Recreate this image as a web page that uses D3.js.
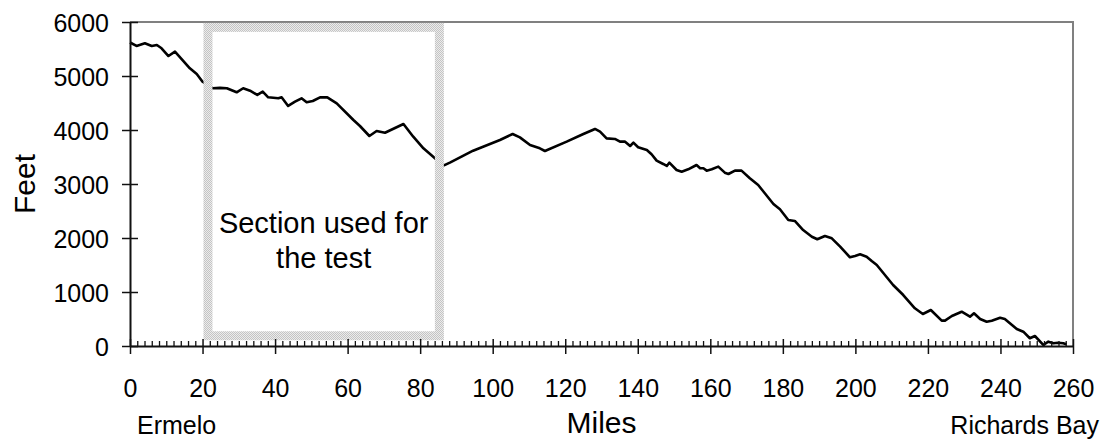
<!DOCTYPE html>
<html>
<head>
<meta charset="utf-8">
<script src="https://cdn.jsdelivr.net/npm/d3@7"></script>
<style>
  html, body { margin: 0; padding: 0; background: #fff; }
  svg { display: block; font-family: "Liberation Sans", Arial, sans-serif; }
</style>
</head>
<body>
<div id="chart"></div>
<script>
/* ---------- Data ---------- */
const miles = [0, 1.8, 4.1, 6, 7.4, 8.7, 10.6, 12.4, 14.3, 16.5, 18.4, 20.0,
  22.8, 24.8, 26.7, 29.4, 31.2, 33.1, 35.1, 36.6, 38.1, 40.9, 41.8, 43.6, 45.5,
  47.3, 48.7, 50.4, 52.4, 54.4, 57.0, 61.6, 63.4, 66.0, 68.0, 70.3, 75.4, 78.1,
  80.9, 83.6, 86.4, 88.2, 94.6, 102.0, 105.5, 107.5, 110.3, 113.0, 114.4, 120.4,
  125.0, 128.2, 129.6, 131.4, 133.7, 135.1, 136.5, 137.9, 138.8, 140.1, 142.5,
  143.8, 145.2, 147.0, 148.0, 148.7, 150.7, 152.1, 153.9, 156.2, 157.2, 158.1,
  159.0, 160.4, 162.2, 164.0, 165.0, 166.8, 168.6, 170.9, 173.2, 177.4, 179.2,
  181.5, 183.3, 185.6, 188.0, 189.5, 191.6, 193.5, 195.8, 198.5, 199.9, 201.3,
  203.1, 204.5, 205.9, 210.4, 213.2, 216.4, 218.6, 220.8, 223.8, 224.7, 226.6,
  229.3, 231.6, 232.7, 234.4, 236.2, 237.6, 239.9, 241.2, 242.6, 244.5, 246.3,
  248.1, 249.5, 251.8, 253.2, 254.6, 255.9, 257.3, 258.2];
const feet = [5620, 5556, 5606, 5556, 5574, 5513, 5370, 5450, 5309, 5143, 5037, 4895,
  4773, 4780, 4773, 4698, 4773, 4728, 4649, 4710, 4605, 4587, 4605, 4445, 4524,
  4587, 4513, 4537, 4605, 4605, 4494, 4185, 4074, 3889, 3982, 3950, 4111, 3876,
  3661, 3506, 3339, 3395, 3617, 3815, 3926, 3864, 3722, 3661, 3611, 3784,
  3926, 4019, 3969, 3845, 3834, 3784, 3784, 3704, 3765, 3680, 3630,
  3550, 3432, 3371, 3334, 3395, 3260, 3228, 3272, 3352, 3291, 3291,
  3247, 3272, 3321, 3210, 3185, 3247, 3247, 3106, 2982, 2630, 2532,
  2334, 2315, 2148, 2024, 1976, 2037, 1994, 1839, 1643, 1667, 1698,
  1654, 1574, 1500, 1130, 944, 698, 593, 667, 469, 469, 556,
  635, 543, 605, 500, 450, 469, 524, 500, 420, 315, 265,
  143, 185, 19, 80, 50, 61, 50, 31];

const xTicks = d3.range(0, 261, 20);
const xMinorTicks = d3.range(0, 261, 2).filter(v => v % 20 !== 0);
const yTicks = d3.range(0, 6001, 1000);

const section = { from: 21.5, to: 85.3, low: 190, high: 5900 };
const sectionLabel = ['Section used for', 'the test'];
const startLabel = 'Ermelo';
const endLabel = 'Richards Bay';

(function () {
  'use strict';

  /* ---------- Size ---------- */
  const W = 1107, H = 441;
  const pl = 130, pr = 1073, pt = 22, pb = 346;
  const FONT = '"Liberation Sans", Arial, sans-serif';

  const svg = d3.select('#chart').append('svg')
    .attr('width', W).attr('height', H);

  svg.append('rect').attr('width', W).attr('height', H).attr('fill', '#fff');

  const x = d3.scaleLinear().domain([0, 260]).range([pl, pr]);
  const y = d3.scaleLinear().domain([0, 6000]).range([pb, pt]);

  // dotted grey pattern for the section frame
  const defs = svg.append('defs');
  const pat = defs.append('pattern').attr('id', 'dots')
    .attr('width', 2).attr('height', 2).attr('patternUnits', 'userSpaceOnUse');
  pat.append('rect').attr('width', 2).attr('height', 2).attr('fill', '#ececec');
  pat.append('rect').attr('width', 1).attr('height', 1).attr('fill', '#c4c4c4');
  pat.append('rect').attr('x', 1).attr('y', 1).attr('width', 1).attr('height', 1).attr('fill', '#c4c4c4');

  /* ---------- Plot border (top / right) ---------- */
  svg.append('path')
    .attr('d', `M${pl},${pt}H${pr}V${pb}`)
    .attr('fill', 'none')
    .attr('stroke', '#808080')
    .attr('stroke-width', 2);

  /* ---------- Line ---------- */
  const pts = miles.map((m, i) => [m, feet[i]]);
  svg.append('path')
    .datum(pts)
    .attr('fill', 'none')
    .attr('stroke', '#000')
    .attr('stroke-width', 2.6)
    .attr('stroke-linejoin', 'round')
    .attr('d', d3.line().x(d => x(d[0])).y(d => y(d[1])));

  /* ---------- Section box ---------- */
  svg.append('rect')
    .attr('x', x(section.from))
    .attr('y', y(section.high))
    .attr('width', x(section.to) - x(section.from))
    .attr('height', y(section.low) - y(section.high))
    .attr('fill', 'none')
    .attr('stroke', 'url(#dots)')
    .attr('stroke-width', 9);

  const cx = (x(section.from) + x(section.to)) / 2;
  svg.append('text')
    .attr('x', cx).attr('y', 233)
    .attr('text-anchor', 'middle')
    .attr('font-size', 29)
    .attr('fill', '#000')
    .selectAll('tspan')
    .data(sectionLabel)
    .join('tspan')
    .attr('x', cx)
    .attr('dy', (d, i) => i === 0 ? 0 : 35)
    .text(d => d);

  /* ---------- Axes ---------- */
  const axisColor = '#111';

  const gy = svg.append('g')
    .attr('transform', `translate(${pl},0)`)
    .call(d3.axisLeft(y).tickValues(yTicks).tickFormat(d3.format('d'))
      .tickSize(8).tickSizeOuter(0));
  gy.select('.domain').attr('stroke', axisColor).attr('stroke-width', 2);
  gy.selectAll('.tick line').attr('x1', 8).attr('x2', -8)
    .attr('stroke', axisColor).attr('stroke-width', 1.5);
  gy.selectAll('.tick text')
    .attr('x', -21).attr('dy', '0.36em')
    .attr('font-size', 25).attr('font-family', FONT)
    .attr('fill', '#000');

  const gxMinor = svg.append('g')
    .attr('transform', `translate(0,${pb})`)
    .call(d3.axisBottom(x).tickValues(xMinorTicks).tickSize(-5).tickSizeOuter(0).tickFormat(''));
  gxMinor.select('.domain').remove();
  gxMinor.selectAll('.tick line').attr('stroke', axisColor).attr('stroke-width', 1.3);

  const gx = svg.append('g')
    .attr('transform', `translate(0,${pb})`)
    .call(d3.axisBottom(x).tickValues(xTicks).tickFormat(d3.format('d'))
      .tickSize(8).tickSizeOuter(0));
  gx.select('.domain').attr('stroke', axisColor).attr('stroke-width', 2);
  gx.selectAll('.tick line').attr('y1', -7).attr('y2', 8)
    .attr('stroke', axisColor).attr('stroke-width', 1.5);
  gx.selectAll('.tick text')
    .attr('y', 33)
    .attr('font-size', 25).attr('font-family', FONT)
    .attr('fill', '#000');

  /* ---------- Titles ---------- */
  svg.append('text')
    .attr('x', (pl + pr) / 2).attr('y', 433)
    .attr('text-anchor', 'middle')
    .attr('font-size', 30)
    .text('Miles');

  svg.append('text')
    .attr('transform', `translate(35,${(pt + pb) / 2}) rotate(-90)`)
    .attr('text-anchor', 'middle')
    .attr('font-size', 30)
    .text('Feet');

  svg.append('text')
    .attr('x', 137).attr('y', 434)
    .attr('font-size', 25)
    .text(startLabel);

  svg.append('text')
    .attr('x', 1099).attr('y', 434)
    .attr('text-anchor', 'end')
    .attr('font-size', 25)
    .text(endLabel);
})();
</script>
</body>
</html>
